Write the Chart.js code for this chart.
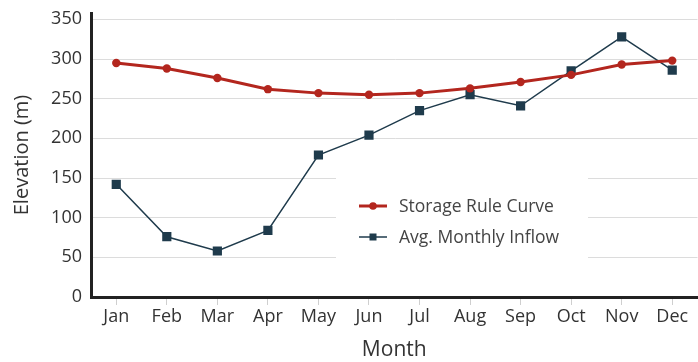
<!DOCTYPE html>
<html>
<head>
<meta charset="utf-8">
<script src="https://cdn.jsdelivr.net/npm/chart.js@4"></script>
<style>
    html, body { margin: 0; padding: 0; background: #fff; overflow: hidden; }
    #wrap { width: 704px; height: 362px; }
</style>
</head>
<body>
<div id="wrap"><canvas id="elevChart" width="704" height="362"></canvas></div>
<script>
const months = ['Jan', 'Feb', 'Mar', 'Apr', 'May', 'Jun', 'Jul', 'Aug', 'Sep', 'Oct', 'Nov', 'Dec'];
const ruleCurve = [295, 288, 276, 262, 257, 255, 257, 263, 271, 280, 293, 298];
const avgInflow = [142, 76, 58, 84, 179, 204, 235, 255, 241, 285, 328, 286];
const yTicks = [0, 50, 100, 150, 200, 250, 300, 350];

const FONT = 'Open Sans';
const RED = '#b3261e';
const NAVY = '#1f3b4c';

// legend drawn inside the plot, on a white box that hides the grid behind it
const innerLegend = {
    id: 'innerLegend',
    beforeDatasetsDraw(chart, args, opts) {
        const ctx = chart.ctx;
        ctx.save();
        ctx.fillStyle = '#fff';
        ctx.fillRect(opts.x, opts.y, opts.w, opts.h);
        ctx.font = `17.5px "${FONT}"`;
        ctx.textBaseline = 'middle';
        chart.data.datasets.forEach((ds, i) => {
            const y = opts.rowY[i];
            ctx.strokeStyle = ds.borderColor;
            ctx.lineWidth = ds.borderWidth;
            ctx.beginPath();
            ctx.moveTo(opts.lineX, y);
            ctx.lineTo(opts.lineX + 28, y);
            ctx.stroke();
            ctx.fillStyle = ds.pointBackgroundColor;
            if (ds.pointStyle === 'rect') {
                ctx.fillRect(opts.lineX + 10.5, y - 3.5, 7, 7);
            } else {
                ctx.beginPath();
                ctx.arc(opts.lineX + 14, y, 3.8, 0, Math.PI * 2);
                ctx.fill();
            }
            ctx.fillStyle = '#444';
            ctx.fillText(ds.label, opts.textX, y + 1);
        });
        ctx.restore();
    }
};

const ctx = document.getElementById('elevChart').getContext('2d');
new Chart(ctx, {
    type: 'line',
    data: {
        labels: months,
        datasets: [{
            label: 'Storage Rule Curve',
            data: ruleCurve,
            borderColor: RED,
            backgroundColor: RED,
            pointBackgroundColor: RED,
            borderWidth: 3,
            pointStyle: 'circle',
            pointRadius: 4.2,
            pointBorderWidth: 0,
            tension: 0
        }, {
            label: 'Avg. Monthly Inflow',
            data: avgInflow,
            borderColor: NAVY,
            backgroundColor: NAVY,
            pointBackgroundColor: NAVY,
            borderWidth: 1.5,
            pointStyle: 'rect',
            pointRadius: 6.5,
            pointBorderWidth: 0,
            tension: 0
        }]
    },
    options: {
        responsive: false,
        animation: false,
        layout: { padding: { top: 13, right: 0, left: 0, bottom: 0 } },
        plugins: {
            legend: { display: false },
            tooltip: { enabled: false },
            innerLegend: {
                x: 336, y: 172, w: 252, h: 92,
                lineX: 359, textX: 399,
                rowY: [206, 237]
            }
        },
        scales: {
            x: {
                offset: true,
                grid: {
                    drawOnChartArea: false,
                    drawTicks: true,
                    tickLength: 8,
                    tickColor: '#cfcfcf'
                },
                border: { display: true, color: '#222', width: 3 },
                ticks: {
                    color: '#333',
                    font: { family: FONT, size: 18 },
                    padding: 1,
                    maxRotation: 0
                },
                title: {
                    display: true,
                    text: 'Month',
                    color: '#333',
                    font: { family: FONT, size: 21 },
                    padding: { top: 0, bottom: -1 }
                },
                afterFit(scale) { scale.height = 65; }
            },
            y: {
                min: 0,
                max: 358,
                grid: {
                    color: '#dcdcdc',
                    lineWidth: 1,
                    drawTicks: false
                },
                border: { display: true, color: '#222', width: 3 },
                ticks: {
                    color: '#333',
                    font: { family: FONT, size: 18 },
                    padding: 9
                },
                afterBuildTicks(scale) {
                    scale.ticks = yTicks.map(v => ({ value: v }));
                },
                title: {
                    display: true,
                    text: 'Elevation (m)',
                    color: '#333',
                    font: { family: FONT, size: 20 },
                    padding: { top: 10, bottom: 0 }
                },
                afterFit(scale) {
                    scale.width = 91;
                    scale.paddingTop = 0;
                    scale.paddingBottom = 0;
                }
            }
        }
    },
    plugins: [innerLegend]
});
</script>
</body>
</html>
